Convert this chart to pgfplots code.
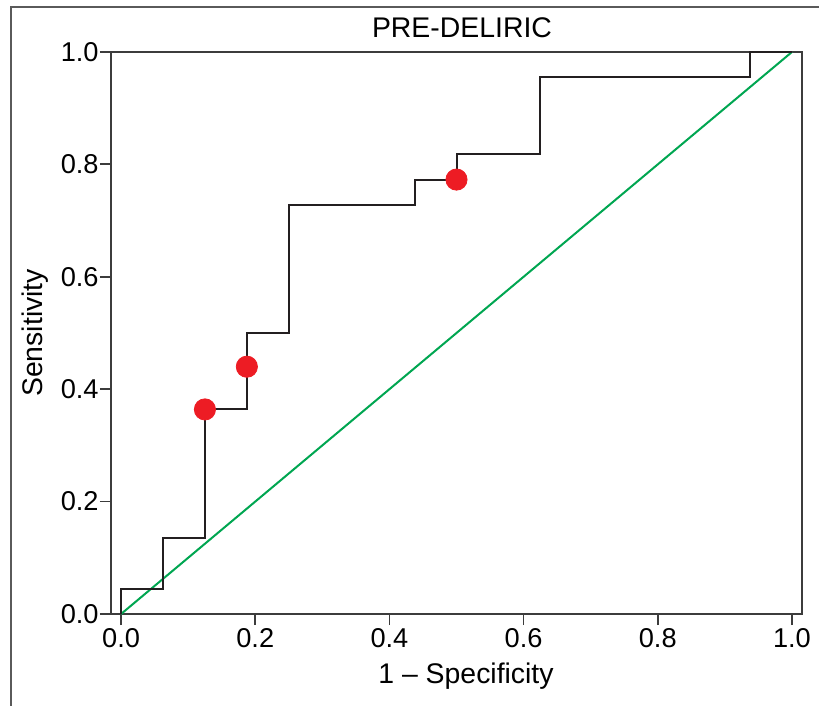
\documentclass[border=0pt]{standalone}
\usepackage{fontspec}
\setmainfont{Liberation Sans}
\usepackage{pgfplots}
\pgfplotsset{compat=1.18}
\definecolor{rocgreen}{HTML}{00A651}
\definecolor{rocred}{HTML}{ED1C24}
\definecolor{rocline}{HTML}{231F20}
\definecolor{axgray}{HTML}{3C3C3C}
\definecolor{framegray}{HTML}{5A5A5A}

\begin{document}
\begin{tikzpicture}
\begin{axis}[
  scale only axis,
  width=345.5pt, height=281pt,
  xmin=-0.015, xmax=1.015,
  ymin=0, ymax=1,
  clip=false,
  xtick={0,0.2,0.4,0.6,0.8,1.0},
  ytick={0,0.2,0.4,0.6,0.8,1.0},
  xtick pos=bottom, ytick pos=left,
  tick align=outside,
  major tick length=5.5pt,
  every tick/.style={axgray, line width=0.9pt},
  axis line style={axgray, line width=0.9pt},
  /pgf/number format/.cd, fixed, fixed zerofill, precision=1, assume math mode=true,
  /pgfplots/.cd,
  tick label style={font=\fontsize{13.6}{16}\selectfont, text=black},
  yticklabel style={anchor=east, inner sep=0pt, xshift=-0.5pt},
  xticklabel style={anchor=north, inner sep=0pt, yshift=-1.5pt},
  title={PRE-DELIRIC},
  xlabel={1 -- Specificity},
  ylabel={Sensitivity},
  every axis title/.style={at={(rel axis cs:0.5,1)}, xshift=2.75pt, yshift=7.35pt, anchor=base, font=\fontsize{14.2}{17}\selectfont},
  every axis x label/.style={at={(rel axis cs:0.5,0)}, xshift=4.75pt, yshift=-34.5pt, anchor=base, font=\fontsize{14.2}{17}\selectfont},
  every axis y label/.style={at={(rel axis cs:0,0.5)}, xshift=-34pt, rotate=90, anchor=base, font=\fontsize{14.2}{17}\selectfont},
]
\coordinate (O) at (rel axis cs:0,0);
% reference diagonal
\addplot[rocgreen, line width=1pt] coordinates {(0,0) (1,1)};
% ROC step curve
\addplot[rocline, line width=1pt, line join=miter] coordinates {
  (0,0) (0,0.045) (0.0625,0.045) (0.0625,0.136) (0.125,0.136) (0.125,0.364)
  (0.1875,0.364) (0.1875,0.5) (0.25,0.5) (0.25,0.727) (0.4375,0.727)
  (0.4375,0.773) (0.5,0.773) (0.5,0.818) (0.625,0.818) (0.625,0.955)
  (0.9375,0.955) (0.9375,1) (1,1)
};
% cut-off points
\addplot[only marks, mark=*, mark size=5.3pt, rocred, mark options={draw=rocred, fill=rocred}] coordinates {
  (0.125,0.364) (0.1875,0.44) (0.5,0.773)
};
\end{axis}
% outer frame (cropped at right and bottom)
\draw[framegray, line width=0.7pt] (O) ++(-50pt,-80pt) -- ++(0,383.5pt) -- ++(450pt,0);
\pgfresetboundingbox
\path[use as bounding box] (O) ++(-55.5pt,-46pt) rectangle ++(409.5pt,353pt);
\end{tikzpicture}
\end{document}
